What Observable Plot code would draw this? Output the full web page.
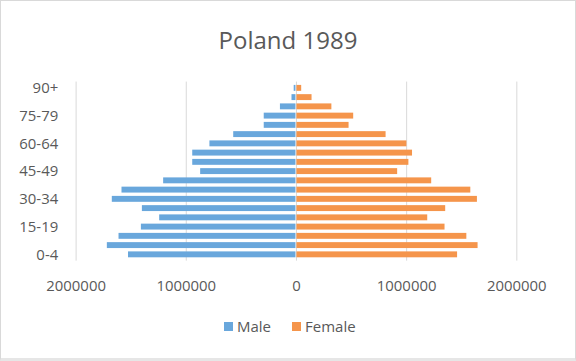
<!DOCTYPE html>
<html>
<head>
<meta charset="utf-8">
<script src="https://cdn.jsdelivr.net/npm/d3@7"></script>
<script src="https://cdn.jsdelivr.net/npm/@observablehq/plot@0.6"></script>
<style>
  html, body { margin: 0; padding: 0; background: #fff; }
  #wrap { position: relative; width: 576px; height: 361px; box-sizing: border-box; border: 1px solid #d9d9d9; border-bottom: 3px solid #e6e6e6; overflow: hidden; font-family: "Open Sans", sans-serif; color: #595959; }
  #title { position: absolute; left: 0; top: 24px; width: 100%; text-align: center; font-size: 24px; line-height: 30px; color: #595959; }
  #chart { position: absolute; left: -1px; top: -1px; }
  #legend { position: absolute; left: 223px; top: 315px; display: flex; align-items: center; font-size: 15px; line-height: 20px; color: #595959; white-space: nowrap; }
  #legend .sw { display: inline-block; width: 9px; height: 9px; margin-right: 4px; }
  #legend .item { display: flex; align-items: center; margin-right: 21px; }
</style>
</head>
<body>
<div id="wrap">
  <div id="title">Poland 1989</div>
  <div id="chart"></div>
  <div id="legend"></div>
</div>
<script>
const ageGroups = ["0-4","5-9","10-14","15-19","20-24","25-29","30-34","35-39","40-44","45-49","50-54","55-59","60-64","65-69","70-74","75-79","80-84","85-89","90+"];
const male   = [1529000,1721000,1615000,1412000,1246000,1403000,1676000,1588000,1210000,874000,946000,946000,790000,574000,297000,297000,150000,45000,25000];
const female = [1467000,1653000,1551000,1353000,1196000,1359000,1647000,1587000,1232000,923000,1025000,1058000,1007000,818000,482000,524000,326000,146000,52000];
const yTickLabels = ["0-4","15-19","30-34","45-49","60-64","75-79","90+"];
const xTicks = [-2000000,-1000000,0,1000000,2000000];
const seriesNames = ["Male","Female"];
const seriesColors = ["#69a7dc","#f5954b"];

const rows = [];
ageGroups.forEach((a, i) => {
  rows.push({age: a, sex: "Male", value: -male[i]});
  rows.push({age: a, sex: "Female", value: female[i]});
});

const chart = Plot.plot({
  width: 578,
  height: 300,
  marginLeft: 76,
  marginRight: 59,
  marginTop: 82,
  marginBottom: 38,
  style: {fontFamily: "'Open Sans', sans-serif", fontSize: "15px", color: "#595959", background: "transparent"},
  x: {domain: [-2000000, 2000000]},
  y: {domain: ageGroups.slice().reverse(), padding: 0.36, round: false},
  color: {domain: seriesNames, range: seriesColors},
  marks: [
    Plot.gridX(xTicks, {stroke: "#d9d9d9", strokeOpacity: 1, strokeWidth: 1}),
    Plot.barX(rows, {y: "age", x1: 0, x2: "value", fill: "sex", insetLeft: 0.5, insetRight: 0.5}),
    Plot.axisX({ticks: xTicks, tickSize: 0, tickPadding: 19, tickFormat: d => String(Math.abs(d)), label: null, fill: "#595959"}),
    Plot.axisY({ticks: yTickLabels, tickSize: 0, tickPadding: 18, label: null, fill: "#595959"})
  ]
});
document.getElementById("chart").appendChild(chart);

const legend = document.getElementById("legend");
seriesNames.forEach((n, i) => {
  const item = document.createElement("span");
  item.className = "item";
  const sw = document.createElement("span");
  sw.className = "sw";
  sw.style.background = seriesColors[i];
  item.appendChild(sw);
  item.appendChild(document.createTextNode(n));
  legend.appendChild(item);
});
</script>
</body>
</html>
